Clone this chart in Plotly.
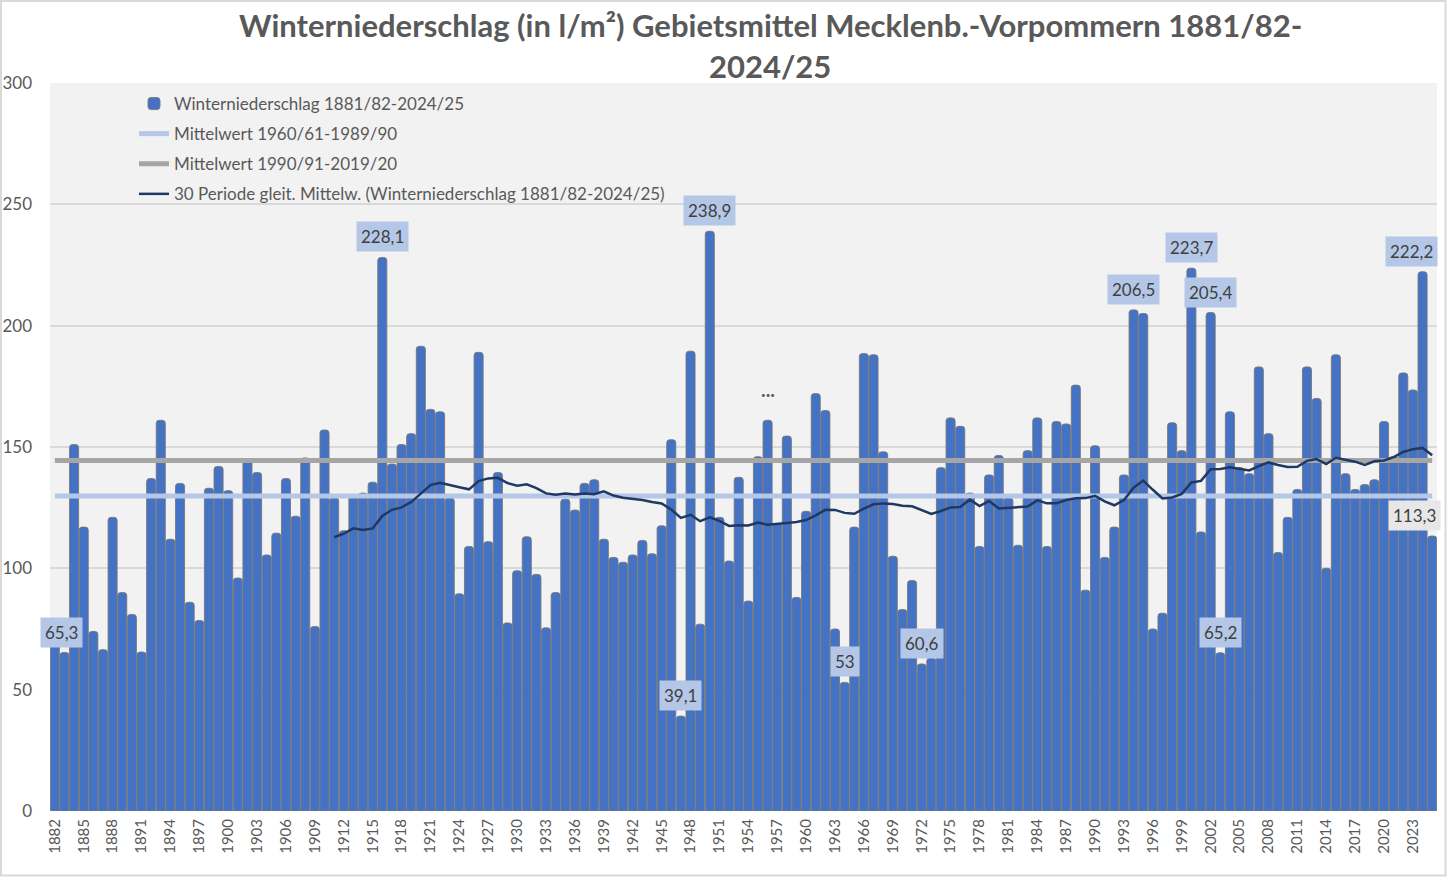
import plotly.graph_objects as go
import pandas as pd

# Winter years (end year of winter 1881/82 ... 2024/25)
years = list(range(1882, 2026))

# Winter precipitation in l/m²
precip = [
    70, 65.3, 151, 117, 74, 66.5, 121, 90, 81, 65.5,            # 1882-1891
    137, 161, 112, 135, 86, 78.5, 133, 142, 132, 96,            # 1892-1901
    145, 139.5, 105.5, 114.5, 137, 121.5, 145.5, 76, 157, 129,  # 1902-1911
    115.5, 130, 131, 135.5, 228.1, 143, 151, 155.5, 191.5, 165.5,  # 1912-1921
    164.5, 129, 89.5, 109, 189, 111, 139.5, 77.5, 99, 113,      # 1922-1931
    97.5, 75.5, 90, 128.5, 124, 135, 136.5, 112, 104.5, 102.5,  # 1932-1941
    105.5, 111.5, 106, 117.5, 153, 39.1, 189.5, 77, 238.9, 121,  # 1942-1951
    103, 137.5, 86.5, 146, 161, 118.5, 154.5, 88, 123.5, 172,   # 1952-1961
    165, 75, 53, 117, 188.5, 188, 148, 105, 83, 95,             # 1962-1971
    60.6, 63, 141.5, 162, 158.5, 131, 109, 138.5, 146.5, 129,   # 1972-1981
    109.5, 148.5, 162, 109, 160.5, 159.5, 175.5, 91, 150.5, 104.5,  # 1982-1991
    117, 138.5, 206.5, 205, 75, 81.5, 160, 148.5, 223.7, 115,   # 1992-2001
    205.4, 65.2, 164.5, 141.5, 139, 183, 155.5, 106.5, 121, 132.5,  # 2002-2011
    183, 170, 100, 188, 139, 132.5, 134.5, 136.5, 160.5, 146,   # 2012-2021
    180.5, 173.5, 222.2, 113.3,                                 # 2022-2025
]

# Labelled values (year -> label text)
label_years = [1883, 1916, 1947, 1950, 1964, 1972, 1994, 2000, 2002, 2003, 2024, 2025]
label_texts = ["65,3", "228,1", "39,1", "238,9", "53", "60,6", "206,5", "223,7",
               "205,4", "65,2", "222,2", "113,3"]

series_names = [
    "Winterniederschlag 1881/82-2024/25",
    "Mittelwert 1960/61-1989/90",
    "Mittelwert 1990/91-2019/20",
    "30 Periode gleit. Mittelw. (Winterniederschlag 1881/82-2024/25)",
]

title_lines = [
    "Winterniederschlag (in l/m²) Gebietsmittel Mecklenb.-Vorpommern 1881/82-",
    "2024/25",
]

tick_years = list(range(1882, 2026, 3))

s = pd.Series(precip, index=years)
mean_6190 = s.loc[1961:1990].mean()
mean_9120 = s.loc[1991:2020].mean()
moving = s.rolling(30).mean()

FONT = "Lato"
TXT = "#595959"

# plot area in pixels: x 50..1437, y 83..811
PW, PH, PL, PB = 1387, 728, 50, 811


def px_x(x):
    return (x - PL) / PW


def px_y(y):
    return (PB - y) / PH


fig = go.Figure()
fig.add_trace(go.Bar(
    x=years, y=precip, name=series_names[0], legendgroup="a",
    marker=dict(color="#4472c4", line=dict(color="rgba(120,120,120,0.9)", width=1)),
))
fig.add_trace(go.Scatter(
    x=years, y=[mean_6190] * len(years), mode="lines", name=series_names[1],
    legendgroup="b", line=dict(color="#b4c7e7", width=5),
))
fig.add_trace(go.Scatter(
    x=years, y=[mean_9120] * len(years), mode="lines", name=series_names[2],
    legendgroup="c", line=dict(color="#a6a6a6", width=5),
))
fig.add_trace(go.Scatter(
    x=years, y=moving.values, mode="lines", name=series_names[3],
    legendgroup="d", line=dict(color="#203864", width=2.5),
))

annotations = []
for yr, txt in zip(label_years, label_texts):
    val = s.loc[yr]
    xs = {2025: -18, 2024: -11, 1883: -3}.get(yr, 0)
    bg = "#e7e7e7" if yr == 2025 else "#b4c7e7"
    annotations.append(dict(
        x=yr, y=val, xref="x", yref="y", text=txt, showarrow=False,
        yanchor="bottom", yshift=5, xshift=xs, bgcolor=bg, borderpad=4,
        font=dict(family=FONT, size=17, color="#404040"),
    ))
annotations.append(dict(
    x=1956, y=s.loc[1956], xref="x", yref="y", text="•••", showarrow=False,
    yanchor="bottom", yshift=18, font=dict(family=FONT, size=8, color="#595959"),
))
for line, ypx in zip(title_lines, [25, 66]):
    annotations.append(dict(
        x=px_x(770), y=px_y(ypx), xref="paper", yref="paper", text="<b>" + line + "</b>",
        showarrow=False, xanchor="center", yanchor="middle",
        font=dict(family=FONT, size=31, color=TXT),
    ))

fig.update_layout(
    width=1447, height=877,
    margin=dict(l=50, r=10, t=83, b=66, autoexpand=False),
    paper_bgcolor="white", plot_bgcolor="#f2f2f2",
    font=dict(family=FONT, color=TXT),
    bargap=0.06,
    barcornerradius=3,
    showlegend=True,
    legend=dict(
        x=px_x(134), y=px_y(86), xanchor="left", yanchor="top",
        bgcolor="rgba(0,0,0,0)", font=dict(family=FONT, size=17, color=TXT),
        traceorder="grouped", tracegroupgap=5,
    ),
    annotations=annotations,
    shapes=[dict(
        type="rect", xref="paper", yref="paper",
        x0=px_x(1), x1=px_x(1445.5), y0=px_y(875.5), y1=px_y(1),
        line=dict(color="#d9d9d9", width=2), fillcolor="rgba(0,0,0,0)", layer="below",
    )],
)
fig.update_xaxes(
    range=[1881.5, 2025.5], tickvals=tick_years, ticktext=[str(t) for t in tick_years],
    tickangle=-90, tickfont=dict(family=FONT, size=15, color=TXT),
    showgrid=False, zeroline=False, showline=False, ticks="", ticklabelstandoff=4,
    automargin=False,
)
fig.update_yaxes(
    range=[0, 300], dtick=50, tickfont=dict(family=FONT, size=17, color=TXT),
    gridcolor="#d9d9d9", gridwidth=1.5, zeroline=False, showline=False, ticks="",
    ticklabelstandoff=17, automargin=False,
)

fig.write_html(
    "out.html",
    config={"displayModeBar": False},
    post_script="document.body.style.margin='0';document.body.style.overflow='hidden';"
                "document.documentElement.style.overflow='hidden';",
)
